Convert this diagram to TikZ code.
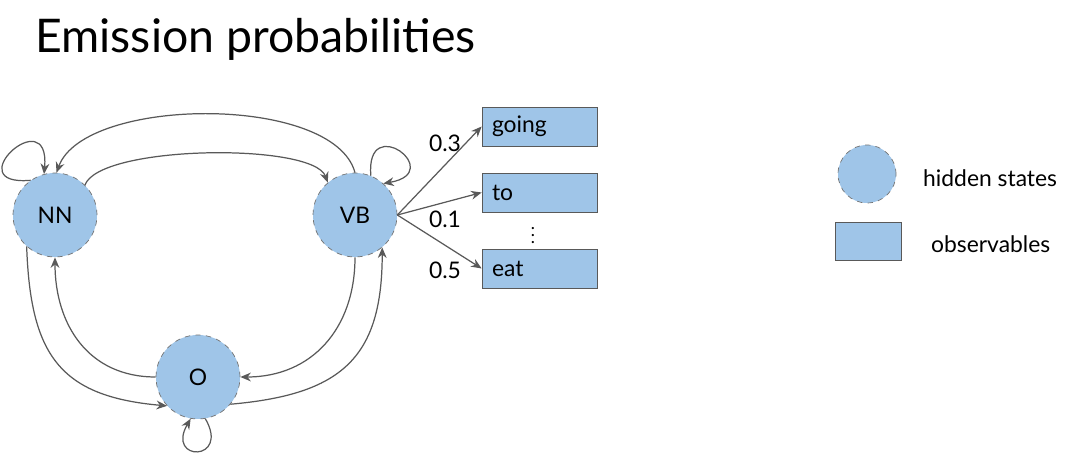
\documentclass[tikz,border=0pt]{standalone}
\usepackage{fontspec}
\setmainfont{Lato}
\usetikzlibrary{arrows.meta}

\begin{document}
\begin{tikzpicture}[font=\fontsize{13}{15}\selectfont,>={Stealth[length=6pt,width=5pt]},
  hstate/.style={draw=black!55,dashed,circle,fill=obsblue,minimum size=1.68cm,inner sep=0pt},
  obs/.style={draw=black!65,fill=obsblue,minimum height=.78cm,text width=1.9cm,inner xsep=.2cm,align=left},
  arr/.style={->,black!65,line width=.7pt}]
  \definecolor{obsblue}{HTML}{9FC5E8}
  \useasboundingbox (0,0) rectangle (21.38,-9.22);
  \node[anchor=base west,font=\fontsize{26.4}{30}\selectfont,inner sep=0pt] (title) at (.70,-1.06) {Emission probabilities};
  % hidden states
  \node[hstate] (nn) at (1.10,-4.30) {NN};
  \node[hstate] (vb) at (7.10,-4.30) {VB};
  \node[hstate] (o) at (3.96,-7.54) {O};
  % observables
  \node[obs] (going) at (10.79,-2.53) {going};
  \node[obs] (to) at (10.79,-3.85) {to};
  \node[obs] (eat) at (10.79,-5.37) {eat};
  \node[font=\fontsize{10}{12}\selectfont] (dots) at (10.66,-4.60) {$\vdots$};
  % transitions
  \draw[arr] (nn.125) to[out=185,in=85,distance=1.5cm] (nn.105);
  \draw[arr] (nn.45) to[out=70,in=110,looseness=.45] (vb.130);
  \draw[arr] (vb.90) to[out=105,in=70,looseness=.7] (nn.88);
  \draw[arr] (vb.68) to[out=95,in=10,distance=1.3cm] (vb.48);
  \draw[arr] (nn.228) to[out=-88,in=175,looseness=1.3] (o.223);
  \draw[arr] (o.180) to[out=180,in=-90,looseness=1.1] (nn.270);
  \draw[arr] (vb.270) to[out=-90,in=0,looseness=1.1] (o.0);
  \draw[arr] (o.-40) to[out=5,in=-90,looseness=1.3] (vb.-50);
  \draw[arr] (o.-80) to[out=-60,in=-120,distance=1cm] (o.-100);
  % emissions
  \draw[arr] (vb.east) -- (going.west) node[pos=.565,above=4pt,black] {0.3};
  \draw[arr] (vb.east) -- (to.west) node[pos=.565,below=1pt,black] {0.1};
  \draw[arr] (vb.east) -- (eat.west) node[pos=.565,below=6pt,black] {0.5};
  % legend
  \node[hstate,minimum size=1.16cm] (lstate) at (17.34,-3.48) {};
  \node[anchor=west] (lstatetxt) at (18.34,-3.56) {hidden states};
  \node[draw=black!65,fill=obsblue,minimum width=1.32cm,minimum height=.76cm] (lobs) at (17.36,-4.82) {};
  \node[anchor=west] (lobstxt) at (18.50,-4.88) {observables};
\end{tikzpicture}
\end{document}
